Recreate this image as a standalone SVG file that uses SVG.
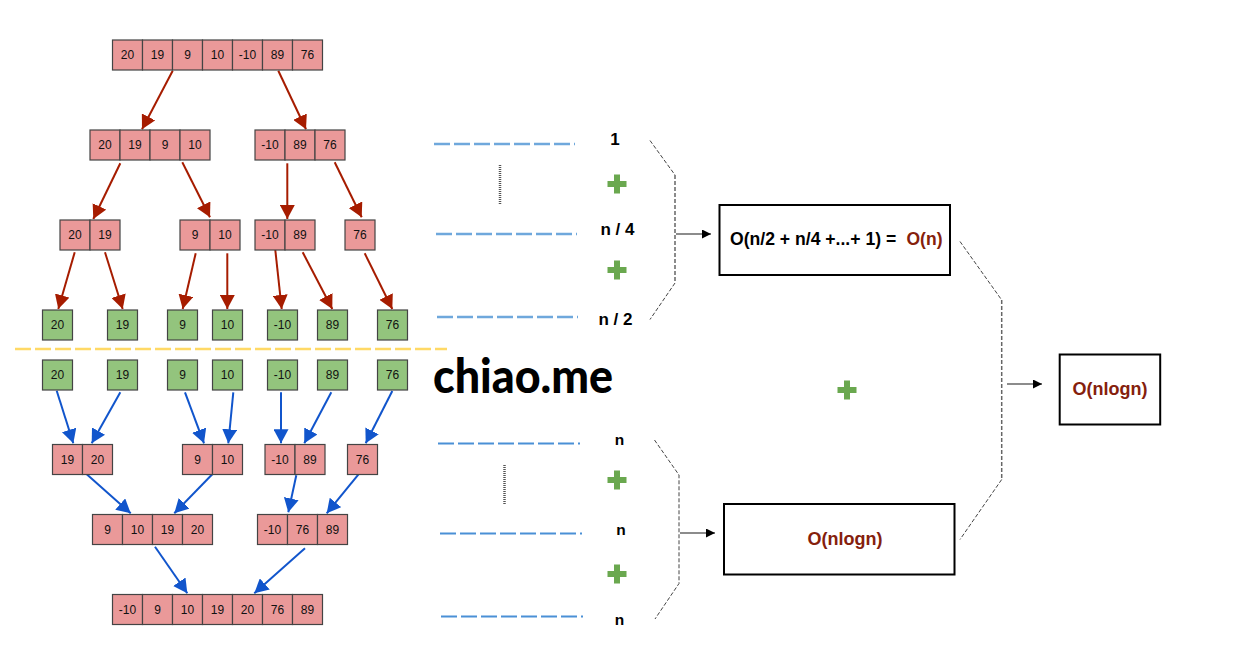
<svg xmlns="http://www.w3.org/2000/svg" width="1253" height="649" viewBox="0 0 1253 649">
<style>
text{font-family:"Liberation Sans",Arial,sans-serif}
.p{fill:#ea9999;stroke:#444;stroke-width:1.200}
.g{fill:#93c47d;stroke:#444;stroke-width:1.200}
.c text{font-size:12px;fill:#111;text-anchor:middle}
.l{font-size:17px;font-weight:bold;fill:#000;text-anchor:middle}
.n{font-size:15.500px;font-weight:bold;fill:#000;text-anchor:middle}
.o{font-size:18px;font-weight:bold;fill:#85200c}
.o1{font-size:17.500px;font-weight:bold;fill:#85200c}
.k{font-size:17.600px;font-weight:bold;fill:#000}
.box{fill:#fff;stroke:#000;stroke-width:2}
.red{stroke:#a61c00;stroke-width:2;fill:none;marker-end:url(#mr)}
.blue{stroke:#1155cc;stroke-width:2;fill:none;marker-end:url(#mb)}
.lvl{stroke:#6fa8dc;stroke-width:2.500;fill:none;stroke-dasharray:16 4}
.lvl2{stroke:#4a90d6;stroke-width:2;fill:none;stroke-dasharray:16 4}
.br{stroke:#444;stroke-width:1;fill:none;stroke-dasharray:4 2}
.brv{stroke:#666;stroke-width:1.500;fill:none;stroke-dasharray:4 2}
.ar{stroke:#666;stroke-width:1.500;fill:none;marker-end:url(#mk)}
.dot{stroke:#555;stroke-width:2.500;fill:none;stroke-dasharray:1 1}
.plus{fill:#6aa84f}
</style>
<defs>
<marker id="mr" markerUnits="userSpaceOnUse" markerWidth="15" markerHeight="15" refX="14" refY="7.500" orient="auto"><path d="M0 0L14 7.500L0 15z" fill="#a61c00"/></marker>
<marker id="mb" markerUnits="userSpaceOnUse" markerWidth="15" markerHeight="15" refX="14" refY="7.500" orient="auto"><path d="M0 0L14 7.500L0 15z" fill="#1155cc"/></marker>
<marker id="mk" markerUnits="userSpaceOnUse" markerWidth="9" markerHeight="9" refX="9" refY="4.500" orient="auto"><path d="M0 0L9 4.500L0 9z" fill="#000"/></marker>
<path id="pl" d="M-3-9.500H3V-3H9.500V3H3V9.500H-3V3H-9.500V-3H-3z"/>
</defs>
<rect width="1253" height="649" fill="#fff"/>

<g id="connectors">
<line class="red" x1="172.700" y1="70.700" x2="142" y2="129.300"/>
<line class="red" x1="278.300" y1="70.700" x2="306" y2="129.300"/>
<line class="red" x1="120.300" y1="163.300" x2="93.300" y2="219"/>
<line class="red" x1="182.300" y1="162.300" x2="210" y2="217.300"/>
<line class="red" x1="287.300" y1="163.300" x2="287.300" y2="219"/>
<line class="red" x1="334.700" y1="162.300" x2="361.700" y2="217.300"/>
<line class="red" x1="74.700" y1="252.300" x2="58.300" y2="309"/>
<line class="red" x1="105" y1="252.300" x2="122.700" y2="309"/>
<line class="red" x1="195.700" y1="253.300" x2="182.700" y2="309"/>
<line class="red" x1="227.300" y1="253.300" x2="227.300" y2="309"/>
<line class="red" x1="275.300" y1="250" x2="281.700" y2="309"/>
<line class="red" x1="302.700" y1="252.300" x2="332.300" y2="309"/>
<line class="red" x1="364.700" y1="253.300" x2="392.300" y2="309"/>
<line class="blue" x1="56.700" y1="390.700" x2="73.300" y2="443.300"/>
<line class="blue" x1="120.300" y1="392.300" x2="91.700" y2="443.300"/>
<line class="blue" x1="185" y1="392.300" x2="204" y2="443.300"/>
<line class="blue" x1="233.300" y1="392.300" x2="228.300" y2="443.300"/>
<line class="blue" x1="281" y1="392.300" x2="281" y2="443.300"/>
<line class="blue" x1="331.300" y1="392.300" x2="304.300" y2="443.300"/>
<line class="blue" x1="392.300" y1="391" x2="365.700" y2="443.300"/>
<line class="blue" x1="86.700" y1="474.300" x2="130.700" y2="513.300"/>
<line class="blue" x1="212.300" y1="474.300" x2="174.300" y2="513.300"/>
<line class="blue" x1="296.300" y1="475.300" x2="288.300" y2="512.300"/>
<line class="blue" x1="359.300" y1="473.300" x2="326.700" y2="513.300"/>
<line class="blue" x1="155" y1="546.700" x2="187.300" y2="593.300"/>
<line class="blue" x1="305" y1="548.300" x2="254.300" y2="593.300"/>
<line x1="15" y1="349" x2="447" y2="349" stroke="#ffd966" stroke-width="2.500" stroke-dasharray="16 4"/>
<line class="lvl" x1="434" y1="144" x2="575" y2="144"/>
<line class="lvl" x1="436" y1="234" x2="577" y2="234"/>
<line class="lvl" x1="437" y1="317" x2="578" y2="317"/>
<line class="lvl2" x1="438" y1="443.500" x2="580" y2="443.500"/>
<line class="lvl2" x1="440" y1="533.500" x2="582" y2="533.500"/>
<line class="lvl2" x1="441" y1="616.500" x2="583" y2="616.500"/>
<line class="dot" x1="500" y1="165" x2="500" y2="204"/>
<line class="dot" x1="504.500" y1="465" x2="504.500" y2="504"/>
<path class="br" d="M650 140.500L675 175M675 283L650 319.500"/>
<path class="brv" d="M675 175V283"/>
<path class="br" d="M654.500 440L679 475V583.500L655 619"/>
<path class="br" d="M960 241.500L1001.700 300M1001.700 479.500L960 539.500"/>
<path class="brv" d="M1001.700 300V479.500"/>
<line class="ar" x1="676" y1="234" x2="711" y2="234"/>
<line class="ar" x1="680" y1="533" x2="715" y2="533"/>
<line class="ar" x1="1007" y1="384" x2="1042" y2="384"/>
</g>

<g id="s0" class="c"><rect class="p" x="112.500" y="40" width="30" height="30"/><rect class="p" x="142.500" y="40" width="30" height="30"/><rect class="p" x="172.500" y="40" width="30" height="30"/><rect class="p" x="202.500" y="40" width="30" height="30"/><rect class="p" x="232.500" y="40" width="30" height="30"/><rect class="p" x="262.500" y="40" width="30" height="30"/><rect class="p" x="292.500" y="40" width="30" height="30"/><text x="127.500" y="59">20</text><text x="157.500" y="59">19</text><text x="187.500" y="59">9</text><text x="217.500" y="59">10</text><text x="247.500" y="59">-10</text><text x="277.500" y="59">89</text><text x="307.500" y="59">76</text></g>

<g id="s1a" class="c"><rect class="p" x="90" y="130" width="30" height="30"/><rect class="p" x="120" y="130" width="30" height="30"/><rect class="p" x="150" y="130" width="30" height="30"/><rect class="p" x="180" y="130" width="30" height="30"/><text x="105" y="149">20</text><text x="135" y="149">19</text><text x="165" y="149">9</text><text x="195" y="149">10</text></g>
<g id="s1b" class="c"><rect class="p" x="255" y="130" width="30" height="30"/><rect class="p" x="285" y="130" width="30" height="30"/><rect class="p" x="315" y="130" width="30" height="30"/><text x="270" y="149">-10</text><text x="300" y="149">89</text><text x="330" y="149">76</text></g>

<g id="s2a" class="c"><rect class="p" x="60" y="220" width="30" height="30"/><rect class="p" x="90" y="220" width="30" height="30"/><text x="75" y="239">20</text><text x="105" y="239">19</text></g>
<g id="s2b" class="c"><rect class="p" x="180" y="220" width="30" height="30"/><rect class="p" x="210" y="220" width="30" height="30"/><text x="195" y="239">9</text><text x="225" y="239">10</text></g>
<g id="s2c" class="c"><rect class="p" x="255" y="220" width="30" height="30"/><rect class="p" x="285" y="220" width="30" height="30"/><text x="270" y="239">-10</text><text x="300" y="239">89</text></g>
<g id="s2d" class="c"><rect class="p" x="345" y="220" width="30" height="30"/><text x="360" y="239">76</text></g>

<g id="s3a" class="c"><rect class="g" x="42.500" y="310" width="30" height="30"/><text x="57.500" y="329">20</text></g>
<g id="s3b" class="c"><rect class="g" x="107.500" y="310" width="30" height="30"/><text x="122.500" y="329">19</text></g>
<g id="s3c" class="c"><rect class="g" x="167.500" y="310" width="30" height="30"/><text x="182.500" y="329">9</text></g>
<g id="s3d" class="c"><rect class="g" x="212.500" y="310" width="30" height="30"/><text x="227.500" y="329">10</text></g>
<g id="s3e" class="c"><rect class="g" x="267.500" y="310" width="30" height="30"/><text x="282.500" y="329">-10</text></g>
<g id="s3f" class="c"><rect class="g" x="317.500" y="310" width="30" height="30"/><text x="332.500" y="329">89</text></g>
<g id="s3g" class="c"><rect class="g" x="377.500" y="310" width="30" height="30"/><text x="392.500" y="329">76</text></g>

<g id="m0a" class="c"><rect class="g" x="42.500" y="360" width="30" height="30"/><text x="57.500" y="379">20</text></g>
<g id="m0b" class="c"><rect class="g" x="107.500" y="360" width="30" height="30"/><text x="122.500" y="379">19</text></g>
<g id="m0c" class="c"><rect class="g" x="167.500" y="360" width="30" height="30"/><text x="182.500" y="379">9</text></g>
<g id="m0d" class="c"><rect class="g" x="212.500" y="360" width="30" height="30"/><text x="227.500" y="379">10</text></g>
<g id="m0e" class="c"><rect class="g" x="267.500" y="360" width="30" height="30"/><text x="282.500" y="379">-10</text></g>
<g id="m0f" class="c"><rect class="g" x="317.500" y="360" width="30" height="30"/><text x="332.500" y="379">89</text></g>
<g id="m0g" class="c"><rect class="g" x="377.500" y="360" width="30" height="30"/><text x="392.500" y="379">76</text></g>

<g id="m1a" class="c"><rect class="p" x="52.500" y="444.500" width="30" height="30"/><rect class="p" x="82.500" y="444.500" width="30" height="30"/><text x="67.500" y="463.500">19</text><text x="97.500" y="463.500">20</text></g>
<g id="m1b" class="c"><rect class="p" x="182.500" y="444.500" width="30" height="30"/><rect class="p" x="212.500" y="444.500" width="30" height="30"/><text x="197.500" y="463.500">9</text><text x="227.500" y="463.500">10</text></g>
<g id="m1c" class="c"><rect class="p" x="265" y="444.500" width="30" height="30"/><rect class="p" x="295" y="444.500" width="30" height="30"/><text x="280" y="463.500">-10</text><text x="310" y="463.500">89</text></g>
<g id="m1d" class="c"><rect class="p" x="347.500" y="444.500" width="30" height="30"/><text x="362.500" y="463.500">76</text></g>

<g id="m2a" class="c"><rect class="p" x="92.500" y="514.500" width="30" height="30"/><rect class="p" x="122.500" y="514.500" width="30" height="30"/><rect class="p" x="152.500" y="514.500" width="30" height="30"/><rect class="p" x="182.500" y="514.500" width="30" height="30"/><text x="107.500" y="533.500">9</text><text x="137.500" y="533.500">10</text><text x="167.500" y="533.500">19</text><text x="197.500" y="533.500">20</text></g>
<g id="m2b" class="c"><rect class="p" x="257.500" y="514.500" width="30" height="30"/><rect class="p" x="287.500" y="514.500" width="30" height="30"/><rect class="p" x="317.500" y="514.500" width="30" height="30"/><text x="272.500" y="533.500">-10</text><text x="302.500" y="533.500">76</text><text x="332.500" y="533.500">89</text></g>

<g id="m3" class="c"><rect class="p" x="112.500" y="594.500" width="30" height="30"/><rect class="p" x="142.500" y="594.500" width="30" height="30"/><rect class="p" x="172.500" y="594.500" width="30" height="30"/><rect class="p" x="202.500" y="594.500" width="30" height="30"/><rect class="p" x="232.500" y="594.500" width="30" height="30"/><rect class="p" x="262.500" y="594.500" width="30" height="30"/><rect class="p" x="292.500" y="594.500" width="30" height="30"/><text x="127.500" y="613.500">-10</text><text x="157.500" y="613.500">9</text><text x="187.500" y="613.500">10</text><text x="217.500" y="613.500">19</text><text x="247.500" y="613.500">20</text><text x="277.500" y="613.500">76</text><text x="307.500" y="613.500">89</text></g>

<text id="watermark" x="433" y="393" font-size="48" font-weight="900" textLength="180" lengthAdjust="spacingAndGlyphs" style="font-family:Lato,'Open Sans',sans-serif" fill="#000">chiao.me</text>

<g id="labels">
<text class="l" x="615" y="145">1</text>
<text class="l" x="617.500" y="235">n / 4</text>
<text class="l" x="615.500" y="325">n / 2</text>
<text class="n" x="619.500" y="445">n</text>
<text class="n" x="621" y="535">n</text>
<text class="n" x="619.500" y="625">n</text>
</g>

<g id="plus" class="plus">
<use href="#pl" x="617" y="184"/>
<use href="#pl" x="617" y="270"/>
<use href="#pl" x="617" y="480"/>
<use href="#pl" x="617" y="574"/>
<use href="#pl" x="847" y="390"/>
</g>

<g id="box1"><rect class="box" x="719.500" y="205" width="230.500" height="70"/><text class="k" x="730" y="244.500">O(n/2 + n/4 +...+ 1) =</text><text class="o1" x="906.500" y="244.500">O(n)</text></g>
<g id="box2"><rect class="box" x="724" y="504" width="230.500" height="70.500"/><text class="o" x="845" y="545" text-anchor="middle">O(nlogn)</text></g>
<g id="box3"><rect class="box" x="1059.700" y="354.500" width="100.500" height="70"/><text class="o" x="1110" y="395" text-anchor="middle">O(nlogn)</text></g>
</svg>
